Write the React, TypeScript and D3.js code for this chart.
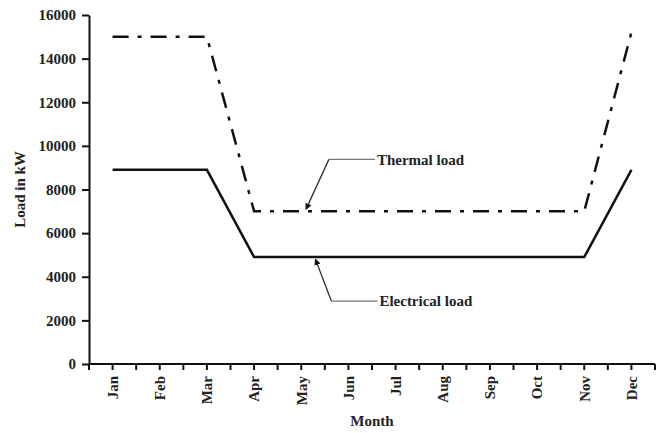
import * as d3 from "d3";
import { useEffect, useRef } from "react";

// data
const months = ["Jan", "Feb", "Mar", "Apr", "May", "Jun", "Jul", "Aug", "Sep", "Oct", "Nov", "Dec"];
const thermalLoad = [15000, 15000, 15000, 7000, 7000, 7000, 7000, 7000, 7000, 7000, 7000, 15200];
const electricalLoad = [8900, 8900, 8900, 4900, 4900, 4900, 4900, 4900, 4900, 4900, 4900, 8900];
const yTicks = [0, 2000, 4000, 6000, 8000, 10000, 12000, 14000, 16000];

const W = 667;
const H = 433;
const FONT = "'Liberation Serif', 'Times New Roman', serif";

const App = () => {
  const ref = useRef<SVGSVGElement>(null);

  useEffect(() => {
    const margin = { top: 15, right: 12, bottom: 69, left: 89 };
    const width = W - margin.left - margin.right;
    const height = H - margin.top - margin.bottom;

    const root = d3.select(ref.current);
    root.selectAll("*").remove();
    const svg = root.append("g").attr("transform", `translate(${margin.left},${margin.top})`);

    const x = d3.scaleLinear().domain([-0.5, months.length - 0.5]).range([0, width]);
    const y = d3.scaleLinear().domain([0, 16000]).range([height, 0]);

    // Y axis
    const yAxis = svg
      .append("g")
      .call(d3.axisLeft(y).tickValues(yTicks).tickSize(7).tickSizeOuter(0).tickPadding(6).tickFormat(d3.format("d")));
    yAxis.select(".domain").attr("stroke", "#111").attr("stroke-width", 2);
    yAxis.selectAll(".tick line").attr("stroke", "#111").attr("stroke-width", 2);
    yAxis
      .selectAll("text")
      .style("font-family", FONT)
      .style("font-size", "15px")
      .style("font-weight", "bold")
      .attr("fill", "#222");

    // X axis: ticks at every half category
    const halfTicks = d3.range(-0.5, months.length, 0.5);
    const xg = svg.append("g").attr("transform", `translate(0,${height})`);
    xg.append("line")
      .attr("x1", 0)
      .attr("x2", width)
      .attr("stroke", "#111")
      .attr("stroke-width", 2);
    xg.selectAll("line.tk")
      .data(halfTicks)
      .join("line")
      .attr("class", "tk")
      .attr("x1", (d) => x(d))
      .attr("x2", (d) => x(d))
      .attr("y1", 0)
      .attr("y2", 6)
      .attr("stroke", "#111")
      .attr("stroke-width", 2);
    xg.selectAll("text")
      .data(months)
      .join("text")
      .attr("transform", (_, i) => `translate(${x(i)},12) rotate(-90)`)
      .attr("text-anchor", "end")
      .attr("dy", "0.35em")
      .style("font-family", FONT)
      .style("font-size", "15px")
      .style("font-weight", "bold")
      .attr("fill", "#222")
      .text((d) => d);

    // Axis titles
    svg
      .append("text")
      .attr("x", width / 2)
      .attr("y", height + 62)
      .attr("text-anchor", "middle")
      .style("font-family", FONT)
      .style("font-size", "15px")
      .style("font-weight", "bold")
      .attr("fill", "#222")
      .text("Month");
    svg
      .append("text")
      .attr("transform", `translate(${-69},${height / 2}) rotate(-90)`)
      .attr("text-anchor", "middle")
      .attr("dy", "0.35em")
      .style("font-family", FONT)
      .style("font-size", "15px")
      .style("font-weight", "bold")
      .attr("fill", "#222")
      .text("Load in kW");

    // Lines
    const line = d3
      .line<number>()
      .x((_, i) => x(i))
      .y((d) => y(d));

    svg
      .append("path")
      .datum(thermalLoad)
      .attr("d", line)
      .attr("fill", "none")
      .attr("stroke", "#111")
      .attr("stroke-width", 2.5)
      .attr("stroke-dasharray", "16,9,4,9");

    svg
      .append("path")
      .datum(electricalLoad)
      .attr("d", line)
      .attr("fill", "none")
      .attr("stroke", "#111")
      .attr("stroke-width", 2.5);

    // Annotations with leader lines
    const defs = root.append("defs");
    defs
      .append("marker")
      .attr("id", "arr")
      .attr("viewBox", "0 0 10 10")
      .attr("refX", 9)
      .attr("refY", 5)
      .attr("markerWidth", 5)
      .attr("markerHeight", 5)
      .attr("orient", "auto")
      .append("path")
      .attr("d", "M0,0L10,5L0,10z")
      .attr("fill", "#111");

    const notes = [
      { label: "Thermal load", at: 4.1, value: 7000, dx: 23, dy: -52 },
      { label: "Electrical load", at: 4.3, value: 4900, dx: 16, dy: 44 },
    ];
    notes.forEach((n) => {
      const tx = x(n.at);
      const ty = y(n.value) - (n.dy < 0 ? 2 : -2);
      const kx = tx + n.dx;
      const ky = y(n.value) + n.dy;
      svg
        .append("line")
        .attr("x1", kx)
        .attr("y1", ky)
        .attr("x2", tx)
        .attr("y2", ty)
        .attr("stroke", "#222")
        .attr("stroke-width", 1.3)
        .attr("marker-end", "url(#arr)");
      svg
        .append("line")
        .attr("x1", kx)
        .attr("y1", ky)
        .attr("x2", kx + 46)
        .attr("y2", ky)
        .attr("stroke", "#777")
        .attr("stroke-width", 1.3);
      svg
        .append("text")
        .attr("x", kx + 48)
        .attr("y", ky)
        .attr("dy", "0.35em")
        .style("font-family", FONT)
        .style("font-size", "15px")
        .style("font-weight", "bold")
        .attr("fill", "#222")
        .text(n.label);
    });
  }, []);

  return (
    <svg
      ref={ref}
      width={W}
      height={H}
      style={{ position: "absolute", left: 0, top: 0, background: "#fff" }}
    />
  );
};

export default App;
